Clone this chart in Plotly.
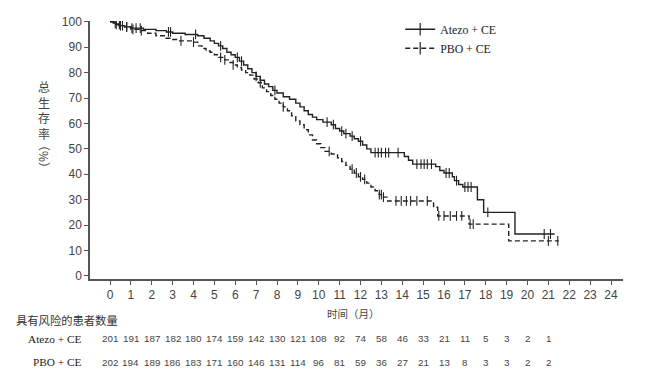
import numpy as np
import plotly.graph_objects as go

# ---------------- data ----------------
months = list(range(25))

atezo_t = [0, 0.15, 0.3, 0.5, 0.7, 1.0, 1.6, 2.2, 2.7, 3.0, 3.6, 4.2, 4.5, 4.8, 5.0, 5.2, 5.4, 5.6,
           5.8, 6.0, 6.2, 6.4, 6.6, 6.8, 7.0, 7.2, 7.4, 7.6, 7.8, 8.0, 8.3, 8.6, 8.9, 9.1, 9.3, 9.5,
           9.7, 9.9, 10.2, 10.6, 10.8, 11.0, 11.2, 11.5, 11.7, 11.9, 12.1, 12.3, 12.5, 14.1, 14.3,
           14.5, 15.6, 15.8, 16.0, 16.4, 16.5, 16.7, 16.9, 17.6, 17.9, 19.4, 21.3]
atezo_s = [100, 99.5, 99, 98.5, 98, 97.5, 97, 96.5, 96, 95.5, 95, 94.5, 93.5, 92.5, 91.5, 90.5, 89.5,
           88, 87, 86, 84.5, 83, 81.5, 80, 78.5, 77, 75.5, 74.5, 73, 72, 70.5, 69.5, 68, 66.5, 65,
           63.5, 62.5, 61.5, 60.5, 59.5, 58, 57, 56, 55, 54, 53, 51.5, 50, 48.5, 47, 45.5, 44, 43,
           41.5, 40.5, 39, 37.5, 36, 35, 30, 25, 16.5, 16.5]

pbo_t = [0, 0.2, 0.4, 0.7, 1.0, 1.4, 1.8, 2.2, 2.6, 3.0, 3.3, 4.0, 4.2, 4.4, 4.6, 4.8, 5.0, 5.2, 5.5,
         5.7, 5.9, 6.1, 6.3, 6.5, 6.7, 6.9, 7.1, 7.3, 7.5, 7.7, 7.9, 8.1, 8.3, 8.5, 8.7, 8.9, 9.1,
         9.3, 9.5, 9.7, 9.9, 10.1, 10.3, 10.6, 10.9, 11.1, 11.3, 11.5, 11.7, 11.9, 12.1, 12.3, 12.5,
         12.7, 12.9, 13.1, 13.3, 15.5, 15.7, 17.2, 19.1, 21.5]
pbo_s = [100, 99, 98.5, 98, 97, 96.5, 95.5, 94.5, 93.5, 93, 92.5, 92, 90.5, 89.5, 88.5, 88, 87, 86,
         85, 84, 83, 82, 81, 80, 79, 77.5, 76, 74, 72.5, 71, 69.5, 68, 66.5, 65, 63, 61, 59.5, 57.5,
         55.5, 53.5, 52, 50.5, 49, 48, 46.5, 45, 43.5, 42, 40.5, 39, 38, 36.5, 35, 33.5, 32, 31,
         29.5, 27, 23.6, 20.4, 13.8, 13.8]

atezo_censor = [0.25, 0.45, 0.6, 0.8, 1.05, 1.25, 1.45, 2.8, 2.9, 4.1, 5.3, 6.1, 6.3, 7.0, 7.9,
                10.4, 10.7, 11.1, 11.3, 11.6, 12.0, 12.7, 12.85, 13.0, 13.2, 13.35, 13.8, 14.7,
                14.9, 15.05, 15.2, 15.4, 16.1, 16.25, 16.6, 17.0, 17.15, 17.3, 18.1, 20.8, 21.1]
pbo_censor = [0.3, 0.5, 0.8, 1.1, 1.5, 3.4, 4.0, 5.3, 5.5, 5.9, 7.2, 8.3, 10.5, 11.6, 11.8, 12.0,
              12.2, 12.9, 13.0, 13.1, 13.7, 13.95, 14.2, 14.4, 14.7, 15.2, 15.75, 16.0, 16.3,
              16.6, 16.85, 17.25, 17.4, 21.0, 21.45]

atezo_risk = [201, 191, 187, 182, 180, 174, 159, 142, 130, 121, 108, 92, 74, 58, 46, 33, 21, 11, 5, 3, 2, 1]
pbo_risk = [202, 194, 189, 186, 183, 171, 160, 146, 131, 114, 96, 81, 59, 36, 27, 21, 13, 8, 3, 3, 2, 2]

series_names = ["Atezo + CE", "PBO + CE"]
risk_header = "具有风险的患者数量"
x_title = "时间（月）"
y_title_chars = ["总", "生", "存", "率"]
y_title_unit = "（%）"

# ---------------- figure ----------------
INK = "#222222"
AXIS = "#555555"
serif = "Liberation Serif"
sans = "Liberation Sans"
cjk = "Noto Sans CJK SC"


def step_at(ts, ss, t):
    i = int(np.searchsorted(ts, t, side="right")) - 1
    return ss[max(i, 0)]


fig = go.Figure()
dashes = ["solid", "5px,3px"]
for name, ts, ss, cens, dash in [
    (series_names[0], atezo_t, atezo_s, atezo_censor, dashes[0]),
    (series_names[1], pbo_t, pbo_s, pbo_censor, dashes[1]),
]:
    fig.add_trace(go.Scatter(
        x=ts, y=ss, mode="lines", line=dict(color=INK, width=1.4, dash=dash, shape="hv"),
        showlegend=False, hoverinfo="skip"))
    fig.add_trace(go.Scatter(
        x=cens, y=[step_at(ts, ss, c) for c in cens], mode="markers",
        marker=dict(symbol="line-ns-open", size=7, color=INK, line=dict(color=INK, width=1.1)),
        showlegend=False, hoverinfo="skip"))
    fig.add_trace(go.Scatter(
        x=[None], y=[None], mode="lines+markers", name=name,
        line=dict(color=INK, width=1.4, dash=dash),
        marker=dict(symbol="line-ns-open", size=9, color=INK, line=dict(color=INK, width=1.2)),
        showlegend=True))


def note(x, y, text, xref="paper", xanchor="center", size=11, family=sans, color="#444", angle=0):
    return dict(x=x, y=y, xref=xref, yref="paper", text=text, showarrow=False,
                xanchor=xanchor, yanchor="middle", textangle=angle,
                font=dict(family=family, size=size, color=color))


ann = []
ROW1, ROW2 = -0.231, -0.322
for i, v in enumerate(atezo_risk):
    ann.append(note(months[i], ROW1, str(v), xref="x", size=9.8))
for i, v in enumerate(pbo_risk):
    ann.append(note(months[i], ROW2, str(v), xref="x", size=9.8))
ann.append(note(-0.012, ROW1, series_names[0], xanchor="right", size=11.3, family=serif, color=INK))
ann.append(note(-0.012, ROW2, series_names[1], xanchor="right", size=11.3, family=serif, color=INK))
ann.append(note(-0.142, -0.158, risk_header, xanchor="left", size=11.3, family=cjk, color="#333"))
ann.append(note(0.441, -0.133, x_title, xanchor="left", size=10.5, family=cjk))
ann.append(note(-0.0865, 0.655, "<br>".join(y_title_chars), size=12, family=cjk))
ann.append(note(-0.0865, 0.473, y_title_unit, size=12, family=cjk, angle=90))

# the page body adds an 8px offset; margins are set so the plot lands where the reference has it
fig.update_layout(
    width=650, height=375,
    margin=dict(l=82, r=35, t=13, b=104, autoexpand=False),
    paper_bgcolor="white", plot_bgcolor="white",
    showlegend=True,
    legend=dict(x=0.582, y=1.024, xanchor="left", yanchor="top", bgcolor="rgba(0,0,0,0)",
                font=dict(family=serif, size=11.8, color=INK), itemwidth=30, tracegroupgap=2),
    annotations=ann,
)
fig.update_xaxes(range=[-0.958, 24.575], tickmode="array", tickvals=months,
                 ticktext=[str(m) for m in months], ticks="outside", ticklen=4, tickcolor=AXIS,
                 showline=True, linecolor=AXIS, linewidth=1.5, showgrid=False, zeroline=False,
                 tickfont=dict(family=sans, size=12, color="#444"))
fig.update_yaxes(range=[-1.2, 100.3], tickmode="array", tickvals=list(range(0, 101, 10)),
                 ticks="outside", ticklen=4, tickcolor=AXIS, showline=True, linecolor=AXIS,
                 linewidth=1.5, showgrid=False, zeroline=False,
                 tickfont=dict(family=sans, size=12, color="#444"))

fig.write_html("out.html")
